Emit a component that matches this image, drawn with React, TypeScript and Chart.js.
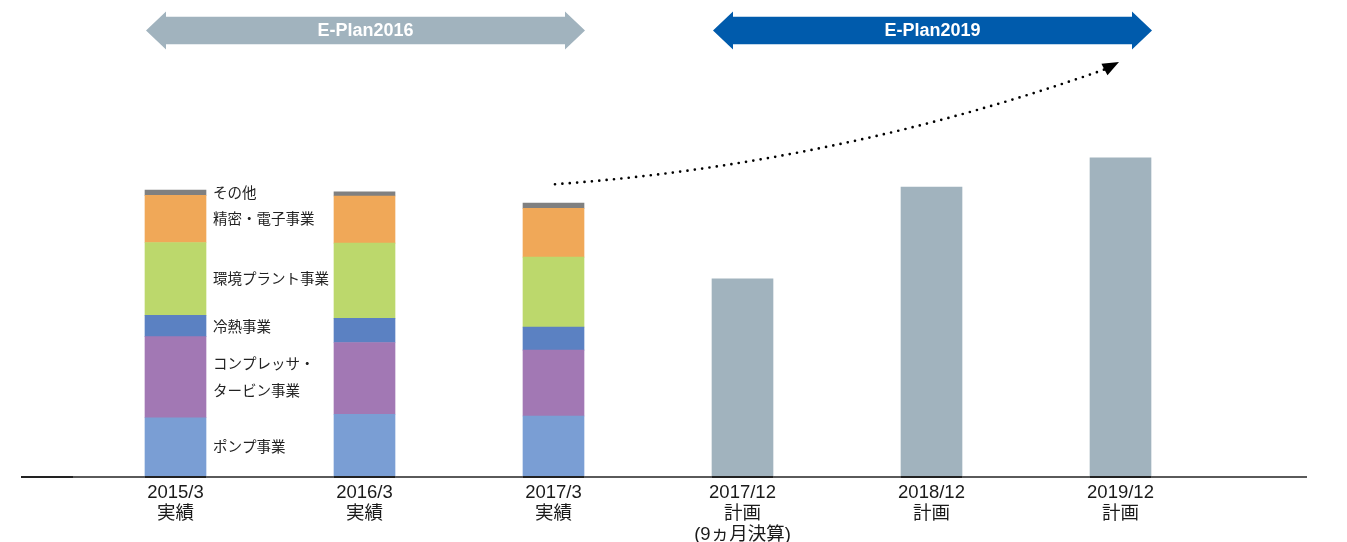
import { useEffect, useRef } from 'react';
import { Chart, registerables } from 'chart.js';

Chart.register(...registerables);

// ---- data (approx. 十億円) ----
const categories: string[][] = [
  ['2015/3', '実績'],
  ['2016/3', '実績'],
  ['2017/3', '実績'],
  ['2017/12', '計画', '(9ヵ月決算)'],
  ['2018/12', '計画'],
  ['2019/12', '計画'],
];
const pump = [99, 105, 102, null, null, null];
const compressor = [138, 122, 112, null, null, null];
const cooling = [36, 41, 39, null, null, null];
const environment = [124, 128, 119, null, null, null];
const precision = [80, 80, 83, null, null, null];
const other = [9, 7, 9, null, null, null];
const plan = [null, null, null, 335, 491, 541];

const segmentNames: (string | string[])[] = [
  'ポンプ事業',
  ['コンプレッサ・', 'タービン事業'],
  '冷熱事業',
  '環境プラント事業',
  '精密・電子事業',
  'その他',
];
const planPeriods = [
  { name: 'E-Plan2016', from: 0, to: 2, mid: 1, color: '#A1B3BE' },
  { name: 'E-Plan2019', from: 3, to: 5, mid: 4, color: '#005BAC' },
];
const growthFrom = { index: 2, value: 496 };
const growthCtrl = { index: 3.5, value: 529 };
const growthEnd = { index: 4.915, value: 691 };
const growthTip = { index: 5, value: 704 };

const colors = ['#7A9ED4', '#A278B4', '#5B81C2', '#BCD86C', '#F0A858', '#808080'];
const planColor = '#A1B3BE';
const BAR = 61;

const annotations = {
  id: 'annotations',
  afterDatasetsDraw(chart: any) {
    const { ctx, chartArea } = chart;
    const x = chart.scales.x;
    const y = chart.scales.y;
    const half = BAR / 2;
    ctx.save();

    // baseline
    const by = chartArea.bottom + 1;
    ctx.lineWidth = 2;
    ctx.strokeStyle = '#5a5a5a';
    ctx.beginPath();
    ctx.moveTo(chartArea.left - 8, by);
    ctx.lineTo(chartArea.right + 92, by);
    ctx.stroke();
    ctx.strokeStyle = '#222';
    ctx.beginPath();
    ctx.moveTo(chartArea.left - 60, by);
    ctx.lineTo(chartArea.left - 8, by);
    ctx.stroke();
    for (let i = 0; i < categories.length; i++) {
      const cx = x.getPixelForValue(i);
      ctx.beginPath();
      ctx.moveTo(cx - half, by);
      ctx.lineTo(cx + half, by);
      ctx.stroke();
    }

    // segment labels next to the first bar
    ctx.fillStyle = '#222';
    ctx.font = "14.5px 'Noto Sans CJK JP', sans-serif";
    ctx.textAlign = 'left';
    ctx.textBaseline = 'middle';
    const series = [pump, compressor, cooling, environment, precision, other];
    let acc = 0;
    const lx = x.getPixelForValue(0) + half + 7;
    series.forEach((s, k) => {
      const v = s[0] as number;
      const mid = y.getPixelForValue(acc + v / 2);
      acc += v;
      const name = segmentNames[k];
      if (Array.isArray(name)) {
        ctx.fillText(name[0], lx, mid - 14);
        ctx.fillText(name[1], lx, mid + 13);
      } else {
        ctx.fillText(name, lx, mid);
      }
    });

    // period arrows
    const cy = 30.5;
    planPeriods.forEach((p) => {
      const x1 = x.getPixelForValue(p.from) - half + 1;
      const x2 = x.getPixelForValue(p.to) + half + 1;
      ctx.fillStyle = p.color;
      ctx.beginPath();
      ctx.moveTo(x1, cy);
      ctx.lineTo(x1 + 20, cy - 19);
      ctx.lineTo(x1 + 20, cy - 13.75);
      ctx.lineTo(x2 - 20, cy - 13.75);
      ctx.lineTo(x2 - 20, cy - 19);
      ctx.lineTo(x2, cy);
      ctx.lineTo(x2 - 20, cy + 19);
      ctx.lineTo(x2 - 20, cy + 13.75);
      ctx.lineTo(x1 + 20, cy + 13.75);
      ctx.lineTo(x1 + 20, cy + 19);
      ctx.closePath();
      ctx.fill();
      ctx.fillStyle = '#fff';
      ctx.font = "bold 18px 'Liberation Sans', Arial, sans-serif";
      ctx.textAlign = 'center';
      ctx.fillText(p.name, x.getPixelForValue(p.mid) + 1, cy + 1);
    });

    // dotted growth curve
    const p0x = x.getPixelForValue(growthFrom.index) + 1.5;
    const p0y = y.getPixelForValue(growthFrom.value);
    const cx = x.getPixelForValue(growthCtrl.index) - 4;
    const cyy = y.getPixelForValue(growthCtrl.value);
    const p2x = x.getPixelForValue(growthEnd.index);
    const p2y = y.getPixelForValue(growthEnd.value);
    const tx = x.getPixelForValue(growthTip.index) - 1.5;
    const ty = y.getPixelForValue(growthTip.value);
    ctx.strokeStyle = '#000';
    ctx.lineWidth = 2.7;
    ctx.lineCap = 'round';
    ctx.setLineDash([0, 7.4]);
    ctx.beginPath();
    ctx.moveTo(p0x, p0y);
    ctx.quadraticCurveTo(cx, cyy, p2x, p2y);
    ctx.stroke();
    ctx.setLineDash([]);
    // arrow head
    const dx = tx - p2x;
    const dy = ty - p2y;
    const len = Math.hypot(dx, dy);
    const nx = -dy / len;
    const ny = dx / len;
    const w = 6.5;
    ctx.fillStyle = '#000';
    ctx.beginPath();
    ctx.moveTo(tx, ty);
    ctx.lineTo(p2x + nx * w, p2y + ny * w);
    ctx.lineTo(p2x - nx * w, p2y - ny * w);
    ctx.closePath();
    ctx.fill();

    ctx.restore();
  },
};

export default function App() {
  const ref = useRef<HTMLCanvasElement | null>(null);
  useEffect(() => {
    document.body.style.margin = '0';
    if (!ref.current) return;
    const names = ['ポンプ事業', 'コンプレッサ・タービン事業', '冷熱事業', '環境プラント事業', '精密・電子事業', 'その他'];
    const series = [pump, compressor, cooling, environment, precision, other];
    const datasets: any[] = series.map((s, i) => ({
      label: names[i],
      data: s,
      backgroundColor: colors[i],
      stack: 's',
      barThickness: BAR,
      borderWidth: 0,
    }));
    datasets.push({
      label: '計画',
      data: plan,
      backgroundColor: planColor,
      stack: 's',
      barThickness: BAR,
      borderWidth: 0,
    });
    const chart = new Chart(ref.current, {
      type: 'bar',
      data: { labels: categories as any, datasets },
      options: {
        animation: false,
        responsive: false,
        maintainAspectRatio: false,
        layout: { padding: { left: 81, right: 132, top: 76, bottom: 0 } },
        plugins: { legend: { display: false }, tooltip: { enabled: false } },
        scales: {
          x: {
            stacked: true,
            offset: true,
            grid: { display: false, drawTicks: false, tickLength: 0 },
            border: { display: false },
            ticks: {
              color: '#1a1a1a',
              padding: 6,
              maxRotation: 0,
              autoSkip: false,
              font: { family: "'Liberation Sans', 'Noto Sans CJK JP', sans-serif", size: 18.5, lineHeight: '21px' },
            },
            afterFit(scale: any) {
              scale.height = 66;
            },
          },
          y: {
            stacked: true,
            display: false,
            min: 0,
            max: 680,
          },
        },
      },
      plugins: [annotations],
    });
    return () => chart.destroy();
  }, []);
  return (
    <div style={{ width: 1347, height: 542 }}>
      <canvas ref={ref} width={1347} height={542} style={{ display: 'block' }} />
    </div>
  );
}
